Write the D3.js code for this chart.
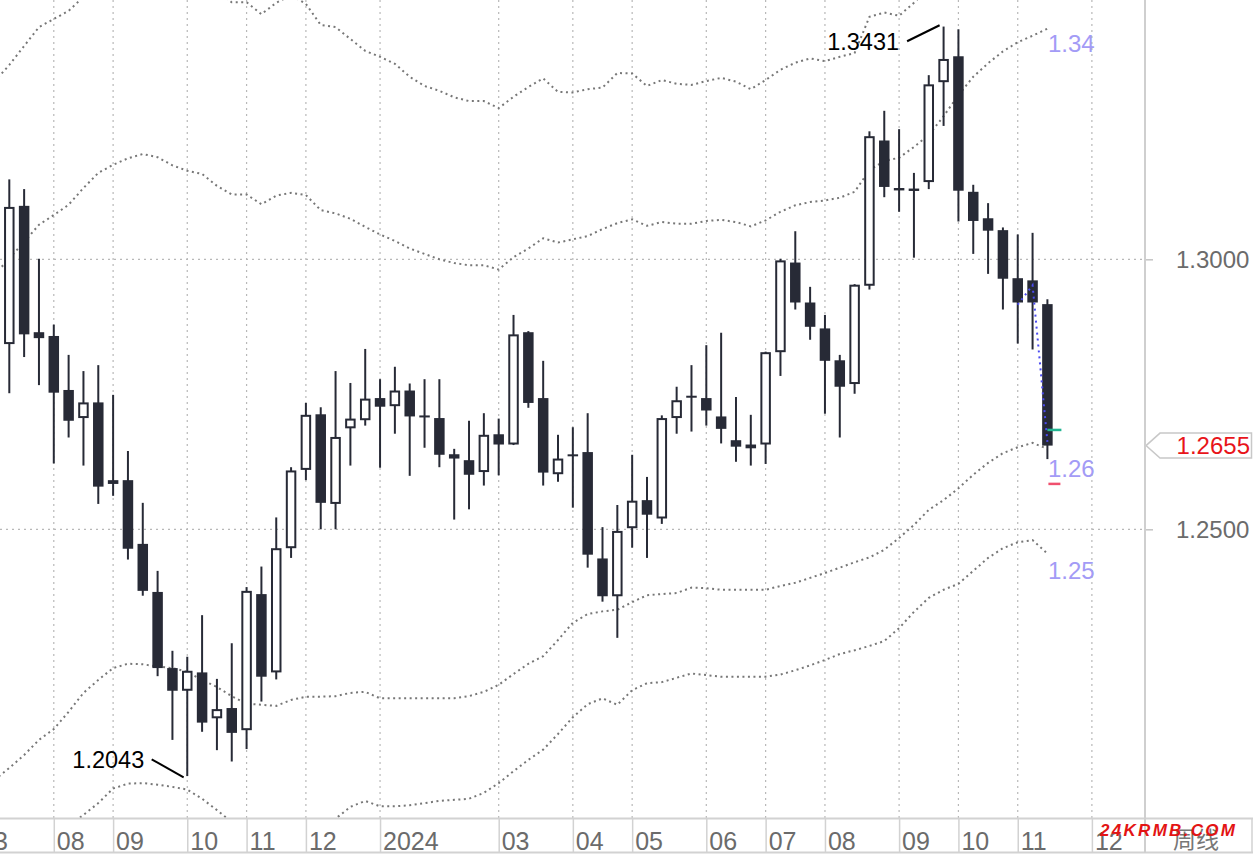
<!DOCTYPE html>
<html><head><meta charset="utf-8">
<script src="https://cdn.jsdelivr.net/npm/d3@7"></script>
<style>html,body{margin:0;padding:0;background:#fff;overflow:hidden}</style>
</head><body>
<svg id="c" width="1253" height="855"></svg>
<script>
// ---------- DATA ----------
const weeks = ["2023-07-10","2023-07-17","2023-07-24","2023-07-31","2023-08-07","2023-08-14","2023-08-21","2023-08-28","2023-09-04","2023-09-11","2023-09-18","2023-09-25","2023-10-02","2023-10-09","2023-10-16","2023-10-23","2023-10-30","2023-11-06","2023-11-13","2023-11-20","2023-11-27","2023-12-04","2023-12-11","2023-12-18","2023-12-25",
"2024-01-01","2024-01-08","2024-01-15","2024-01-22","2024-01-29","2024-02-05","2024-02-12","2024-02-19","2024-02-26","2024-03-04","2024-03-11","2024-03-18","2024-03-25","2024-04-01","2024-04-08","2024-04-15","2024-04-22","2024-04-29","2024-05-06","2024-05-13","2024-05-20","2024-05-27","2024-06-03","2024-06-10","2024-06-17","2024-06-24","2024-07-01","2024-07-08","2024-07-15","2024-07-22","2024-07-29","2024-08-05","2024-08-12","2024-08-19","2024-08-26","2024-09-02","2024-09-09","2024-09-16","2024-09-23","2024-09-30","2024-10-07","2024-10-14","2024-10-21","2024-10-28","2024-11-04","2024-11-11"];

const open = [1.2843,1.3099,1.2865,1.2858,1.2758,1.2706,1.2735,1.2584,1.2591,1.2473,
1.2384,1.2243,1.2201,1.2235,1.2150,1.2169,1.2128,1.2380,1.2235,1.2465,
1.2610,1.2713,1.2547,1.2687,1.2702,1.2743,1.2728,1.2757,1.2710,1.2706,
1.2639,1.2628,1.2606,1.2676,1.2657,1.2865,1.2743,1.2602,1.2638,1.2643,
1.2446,1.2376,1.2502,1.2554,1.2520,1.2706,1.2746,1.2743,1.2709,1.2665,
1.2650,1.2657,1.2828,1.2994,1.2920,1.2872,1.2813,1.2769,1.2951,1.3220,
1.3130,1.3131,1.3143,1.3328,1.3376,1.3125,1.3076,1.3054,1.2965,1.2961,1.2917];
const high = [1.3148,1.3130,1.3001,1.2879,1.2823,1.2793,1.2804,1.2749,1.2645,1.2549,
1.2423,1.2275,1.2264,1.2341,1.2223,1.2289,1.2393,1.2431,1.2522,1.2615,
1.2734,1.2726,1.2793,1.2771,1.2834,1.2778,1.2801,1.2770,1.2778,1.2778,
1.2649,1.2701,1.2715,1.2705,1.2897,1.2867,1.2812,1.2675,1.2689,1.2715,
1.2504,1.2545,1.2638,1.2597,1.2711,1.2764,1.2804,1.2841,1.2864,1.2745,
1.2712,1.2829,1.3001,1.3052,1.2949,1.2897,1.2823,1.2954,1.3237,1.3275,
1.3241,1.3160,1.3341,1.3431,1.3426,1.3138,1.3104,1.3059,1.3046,1.3049,1.2926];
const low = [1.2752,1.2819,1.2767,1.2622,1.2670,1.2618,1.2547,1.2562,1.2444,1.2377,
1.2228,1.2110,1.2043,1.2125,1.2091,1.2070,1.2093,1.2181,1.2222,1.2447,
1.2591,1.2500,1.2500,1.2618,1.2692,1.2614,1.2677,1.2599,1.2651,1.2615,
1.2518,1.2537,1.2581,1.2600,1.2656,1.2725,1.2581,1.2588,1.2540,1.2429,
1.2366,1.2299,1.2466,1.2447,1.2510,1.2677,1.2681,1.2692,1.2659,1.2625,
1.2618,1.2621,1.2784,1.2907,1.2851,1.2714,1.2670,1.2751,1.2944,1.3115,
1.3088,1.3003,1.3130,1.3247,1.3070,1.3010,1.2973,1.2907,1.2844,1.2833,1.2630];
const close = [1.3097,1.2861,1.2854,1.2753,1.2701,1.2735,1.2579,1.2591,1.2464,1.2386,
1.2243,1.2201,1.2238,1.2142,1.2167,1.2123,1.2386,1.2227,1.2465,1.2609,
1.2712,1.2549,1.2671,1.2705,1.2742,1.2727,1.2757,1.2709,1.2708,1.2638,
1.2631,1.2601,1.2675,1.2657,1.2861,1.2734,1.2605,1.2631,1.2636,1.2453,
1.2376,1.2497,1.2553,1.2527,1.2706,1.2739,1.2745,1.2720,1.2686,1.2653,
1.2657,1.2828,1.2998,1.2920,1.2875,1.2812,1.2764,1.2953,1.3228,1.3134,
1.3132,1.3131,1.3324,1.3371,1.3127,1.3071,1.3053,1.2964,1.2920,1.2920,1.2655];

// band lines start one week earlier than the candles
const bandStartWeek = "2023-07-03";
const upperOuter = [1.3329,1.3360,1.3395,1.3430,1.3445,1.3460,1.3486,1.3502,1.3517,1.3528,1.3551,
1.3547,1.3535,1.3526,1.3514,1.3495,1.3476,1.3476,1.3454,1.3475,1.3489,
1.3473,1.3434,1.3430,1.3408,1.3386,1.3375,1.3362,1.3338,1.3321,1.3312,
1.3300,1.3293,1.3293,1.3280,1.3301,1.3319,1.3335,1.3310,1.3309,1.3315,
1.3318,1.3345,1.3344,1.3321,1.3332,1.3325,1.3323,1.3330,1.3336,1.3329,
1.3315,1.3332,1.3351,1.3364,1.3372,1.3367,1.3375,1.3382,1.3449,1.3457,
1.3451,1.3475,1.3502,1.3554,1.3591,1.3610,1.3619,1.3624,1.3628,1.3628,1.3624];
const upperBand = [1.2971,1.3002,1.3032,1.3064,1.3082,1.3101,1.3132,1.3160,1.3175,1.3187,1.3195,
1.3189,1.3174,1.3164,1.3158,1.3136,1.3120,1.3120,1.3102,1.3118,1.3123,
1.3119,1.3091,1.3085,1.3075,1.3060,1.3046,1.3034,1.3020,1.3010,1.3000,
1.2993,1.2989,1.2989,1.2981,1.3004,1.3020,1.3039,1.3031,1.3037,1.3043,
1.3056,1.3067,1.3074,1.3062,1.3069,1.3066,1.3066,1.3071,1.3073,1.3069,
1.3061,1.3072,1.3088,1.3100,1.3106,1.3109,1.3114,1.3125,1.3165,1.3182,
1.3188,1.3208,1.3230,1.3265,1.3304,1.3338,1.3363,1.3385,1.3402,1.3414,1.3427];
const lowerBand = [1.2036,1.2058,1.2082,1.2110,1.2130,1.2162,1.2197,1.2221,1.2243,1.2251,1.2250,
1.2246,1.2243,1.2236,1.2221,1.2208,1.2191,1.2177,1.2175,1.2173,1.2184,
1.2190,1.2190,1.2191,1.2197,1.2199,1.2187,1.2187,1.2187,1.2187,1.2187,
1.2187,1.2191,1.2199,1.2212,1.2232,1.2251,1.2265,1.2295,1.2327,1.2343,
1.2348,1.2351,1.2365,1.2378,1.2380,1.2382,1.2392,1.2391,1.2388,1.2388,
1.2388,1.2388,1.2395,1.2401,1.2410,1.2419,1.2429,1.2439,1.2448,1.2462,
1.2484,1.2508,1.2536,1.2554,1.2576,1.2601,1.2623,1.2641,1.2652,1.2660,1.2649];
const lowerOuter = [1.1823,1.1851,1.1879,1.1906,1.1928,1.1951,1.1971,1.1993,1.2020,1.2029,1.2030,
1.2027,1.2023,1.2018,1.2001,1.1980,1.1958,1.1947,1.1939,1.1936,1.1936,
1.1942,1.1951,1.1964,1.1986,1.1997,1.1987,1.1987,1.1989,1.1993,1.1997,
1.1999,1.2001,1.2012,1.2030,1.2052,1.2073,1.2092,1.2121,1.2152,1.2176,
1.2187,1.2175,1.2202,1.2215,1.2217,1.2225,1.2233,1.2230,1.2227,1.2227,
1.2227,1.2227,1.2231,1.2239,1.2248,1.2258,1.2269,1.2276,1.2284,1.2293,
1.2317,1.2347,1.2373,1.2388,1.2399,1.2423,1.2447,1.2465,1.2476,1.2480,1.2455];

const fastWeeks = ["2024-10-28","2024-11-04","2024-11-11"];
const fastLine = [1.2916,1.2952,1.2662];

const monthTickWeeks = ["2023-07-31","2023-08-28","2023-10-02","2023-10-30","2023-11-27","2024-01-01","2024-02-26","2024-04-01","2024-04-29","2024-06-03","2024-07-01","2024-07-29","2024-09-02","2024-09-30","2024-10-28","2024-12-02"];
const monthTickLabels = ["08","09","10","11","12","2024","03","04","05","06","07","08","09","10","11","12"];
const priceTicks = [1.30, 1.25];
const lastPrice = 1.2655;
const bandLabels = ["1.34","1.26","1.25"];
const tealMark = 1.2684, redMark = 1.2585;

// ---------- SETUP ----------
const W = 1253, H = 855, plotR = 1145, plotB = 818;
const parse = d3.utcParse("%Y-%m-%d");
const svg = d3.select("#c").style("font-family", "'Liberation Sans', Arial, sans-serif");
const x = d3.scaleUtc().domain([parse(weeks[0]), parse(weeks[weeks.length-1])]).range([9.3, 1047.4]);
const y = d3.scaleLinear().domain([1.25, 1.30]).range([529.3, 259.3]);
const dark = "#272a36";

svg.append("rect").attr("width", W).attr("height", H).attr("fill", "#fff");
svg.append("defs").append("clipPath").attr("id","clip")
  .append("rect").attr("x",0).attr("y",0).attr("width",plotR).attr("height",plotB);

const tickDates = monthTickWeeks.map(parse);

// grid
const grid = svg.append("g").attr("clip-path","url(#clip)");
grid.selectAll(".vg").data(tickDates).join("line")
  .attr("x1", d=>x(d)).attr("x2", d=>x(d)).attr("y1",0).attr("y2",plotB)
  .attr("stroke","#b8b8b8").attr("stroke-width",1.2).attr("stroke-dasharray","2,4");
grid.selectAll(".hg").data(priceTicks).join("line")
  .attr("x1",0).attr("x2",plotR).attr("y1",d=>y(d)).attr("y2",d=>y(d))
  .attr("stroke","#b8b8b8").attr("stroke-width",1.2).attr("stroke-dasharray","2,4");

// bands
const bandDates = [parse(bandStartWeek), ...weeks.map(parse)];
const bandG = svg.append("g").attr("clip-path","url(#clip)");
const lineGen = d3.line().x((d,i)=>x(bandDates[i])).y(d=>y(d));
[upperOuter, upperBand, lowerBand, lowerOuter].forEach(arr=>{
  bandG.append("path").datum(arr).attr("d", lineGen)
    .attr("fill","none").attr("stroke","#777").attr("stroke-width",2)
    .attr("stroke-dasharray","2,3.5");
});

// candles
const data = weeks.map((w,i)=>({date:parse(w), o:open[i], h:high[i], l:low[i], c:close[i]}));
const cg = svg.append("g").attr("clip-path","url(#clip)");
cg.selectAll(".wick").data(data).join("line")
  .attr("x1", d=>x(d.date)).attr("x2", d=>x(d.date))
  .attr("y1", d=>y(d.h)).attr("y2", d=>y(d.l))
  .attr("stroke", dark).attr("stroke-width", 2);
const bodyW = 10.5;
cg.selectAll(".body").data(data).join("rect")
  .each(function(d){
    const up = d.c >= d.o;
    const top = y(Math.max(d.o,d.c)), bot = y(Math.min(d.o,d.c));
    const sel = d3.select(this);
    if (up) {
      const h = Math.max(bot - top - 2, 0.4);
      sel.attr("x", x(d.date) - bodyW/2 + 1).attr("width", bodyW - 2)
        .attr("y", top + 1).attr("height", h)
        .attr("fill","#fff").attr("stroke", dark).attr("stroke-width", 2);
    } else {
      const h = Math.max(bot - top, 2);
      sel.attr("x", x(d.date) - bodyW/2).attr("width", bodyW)
        .attr("y", (top+bot)/2 - h/2).attr("height", h)
        .attr("fill", dark);
    }
  });

// fast (blue dotted) line
const fl = d3.line().x((d,i)=>x(parse(fastWeeks[i]))).y(d=>y(d));
cg.append("path").datum(fastLine).attr("d", fl).attr("fill","none")
  .attr("stroke","#4b4bf0").attr("stroke-width",2).attr("stroke-dasharray","2,4");

// markers at last candle
const lastX = x(parse(weeks[weeks.length-1]));
svg.append("line").attr("x1", lastX).attr("x2", lastX+14).attr("y1", y(tealMark)).attr("y2", y(tealMark))
  .attr("stroke","#22b592").attr("stroke-width",2.5);
svg.append("line").attr("x1", lastX+1).attr("x2", lastX+13).attr("y1", y(redMark)+0.5).attr("y2", y(redMark)+0.5)
  .attr("stroke","#f0506e").attr("stroke-width",2.5);

// band labels
const labelY = [51.5, 476.5, 578.5];
bandLabels.forEach((t,i)=>{
  svg.append("text").attr("x", lastX+0.5).attr("y", labelY[i]).text(t)
    .attr("fill","#a39bf6").attr("font-size","24px");
});

// high / low annotations
let hi = d3.maxIndex(high), lo = d3.minIndex(low);
const hx = x(parse(weeks[hi])), hy = y(high[hi]);
svg.append("line").attr("x1", hx-4).attr("y1", hy-1.3).attr("x2", hx-36.5).attr("y2", hy+14.7)
  .attr("stroke","#000").attr("stroke-width",2);
svg.append("text").attr("x", hx-44.5).attr("y", hy+23.4).attr("text-anchor","end")
  .attr("font-size","23.5px").attr("fill","#000").text(d3.format(".4f")(high[hi]));
const lx = x(parse(weeks[lo])), ly = y(low[lo]);
svg.append("line").attr("x1", lx-3.6).attr("y1", ly+1.2).attr("x2", lx-35.6).attr("y2", ly-16.8)
  .attr("stroke","#000").attr("stroke-width",2);
svg.append("text").attr("x", lx-43).attr("y", ly-7.8).attr("text-anchor","end")
  .attr("font-size","23.5px").attr("fill","#000").text(d3.format(".4f")(low[lo]));

// ---------- AXES ----------
// right price axis
const ya = d3.axisRight(y).tickValues(priceTicks).tickFormat(d3.format(".4f")).tickSize(8).tickPadding(23);
const yg = svg.append("g").attr("transform", `translate(${plotR},0)`).call(ya);
yg.select(".domain").remove();
yg.selectAll(".tick line").attr("stroke","#c4c4c4").attr("stroke-width",1.5);
yg.selectAll(".tick text").attr("font-size","24px").attr("fill","#6b6b6b")
  .attr("font-family","'Liberation Sans', Arial, sans-serif").attr("dy","0.35em");

// last price box
const lpY = y(lastPrice);
svg.append("path")
  .attr("d", `M${plotR+1},${lpY} L${plotR+15},${lpY-12.5} L${W-1.5},${lpY-12.5} L${W-1.5},${lpY+12.5} L${plotR+15},${lpY+12.5} Z`)
  .attr("fill","#fff").attr("stroke","#c8c8c8").attr("stroke-width",1.5);
svg.append("text").attr("x", 1250).attr("y", lpY+8.6).attr("text-anchor","end")
  .attr("font-size","24px").attr("fill","#e8141a").text(d3.format(".4f")(lastPrice));

// bottom time axis
const xa = d3.axisBottom(x).tickValues(tickDates).tickFormat((d,i)=>monthTickLabels[i]).tickSize(34);
const xg = svg.append("g").attr("transform", `translate(0,${plotB})`).call(xa);
xg.select(".domain").remove();
xg.selectAll(".tick line").attr("stroke","#d2d2d2").attr("stroke-width",1.5);
xg.selectAll(".tick text").attr("text-anchor","start").attr("x",2.5).attr("y",32).attr("dy",0)
  .attr("font-size","25px").attr("fill","#6b6b6b").attr("font-family","'Liberation Sans', Arial, sans-serif");
// partially visible previous label at the left edge
svg.append("text").attr("x", 8).attr("y", plotB+32).attr("text-anchor","end")
  .attr("font-size","25px").attr("fill","#6b6b6b").text("2023");

// frame lines
svg.append("line").attr("x1",0).attr("x2",W).attr("y1",plotB+0.5).attr("y2",plotB+0.5)
  .attr("stroke","#d2d2d2").attr("stroke-width",2);
svg.append("line").attr("x1",0).attr("x2",W).attr("y1",852.5).attr("y2",852.5)
  .attr("stroke","#d2d2d2").attr("stroke-width",2);
svg.append("line").attr("x1",plotR).attr("x2",plotR).attr("y1",0).attr("y2",853)
  .attr("stroke","#cfcfcf").attr("stroke-width",2);
svg.append("line").attr("x1",W-1).attr("x2",W-1).attr("y1",plotB).attr("y2",853)
  .attr("stroke","#d2d2d2").attr("stroke-width",1.5);

// period label & watermark
svg.append("text").attr("x", 1173).attr("y", 848).attr("font-size","23px").attr("fill","#777")
  .attr("font-family","'Noto Sans CJK SC', sans-serif").text("周线");
svg.append("text").attr("x", 1100).attr("y", 835.5).attr("font-size","17px").attr("font-weight","bold")
  .attr("font-style","italic").attr("letter-spacing","2.3px").attr("fill","#e31414").text("24KRMB.COM");
</script>
</body></html>
